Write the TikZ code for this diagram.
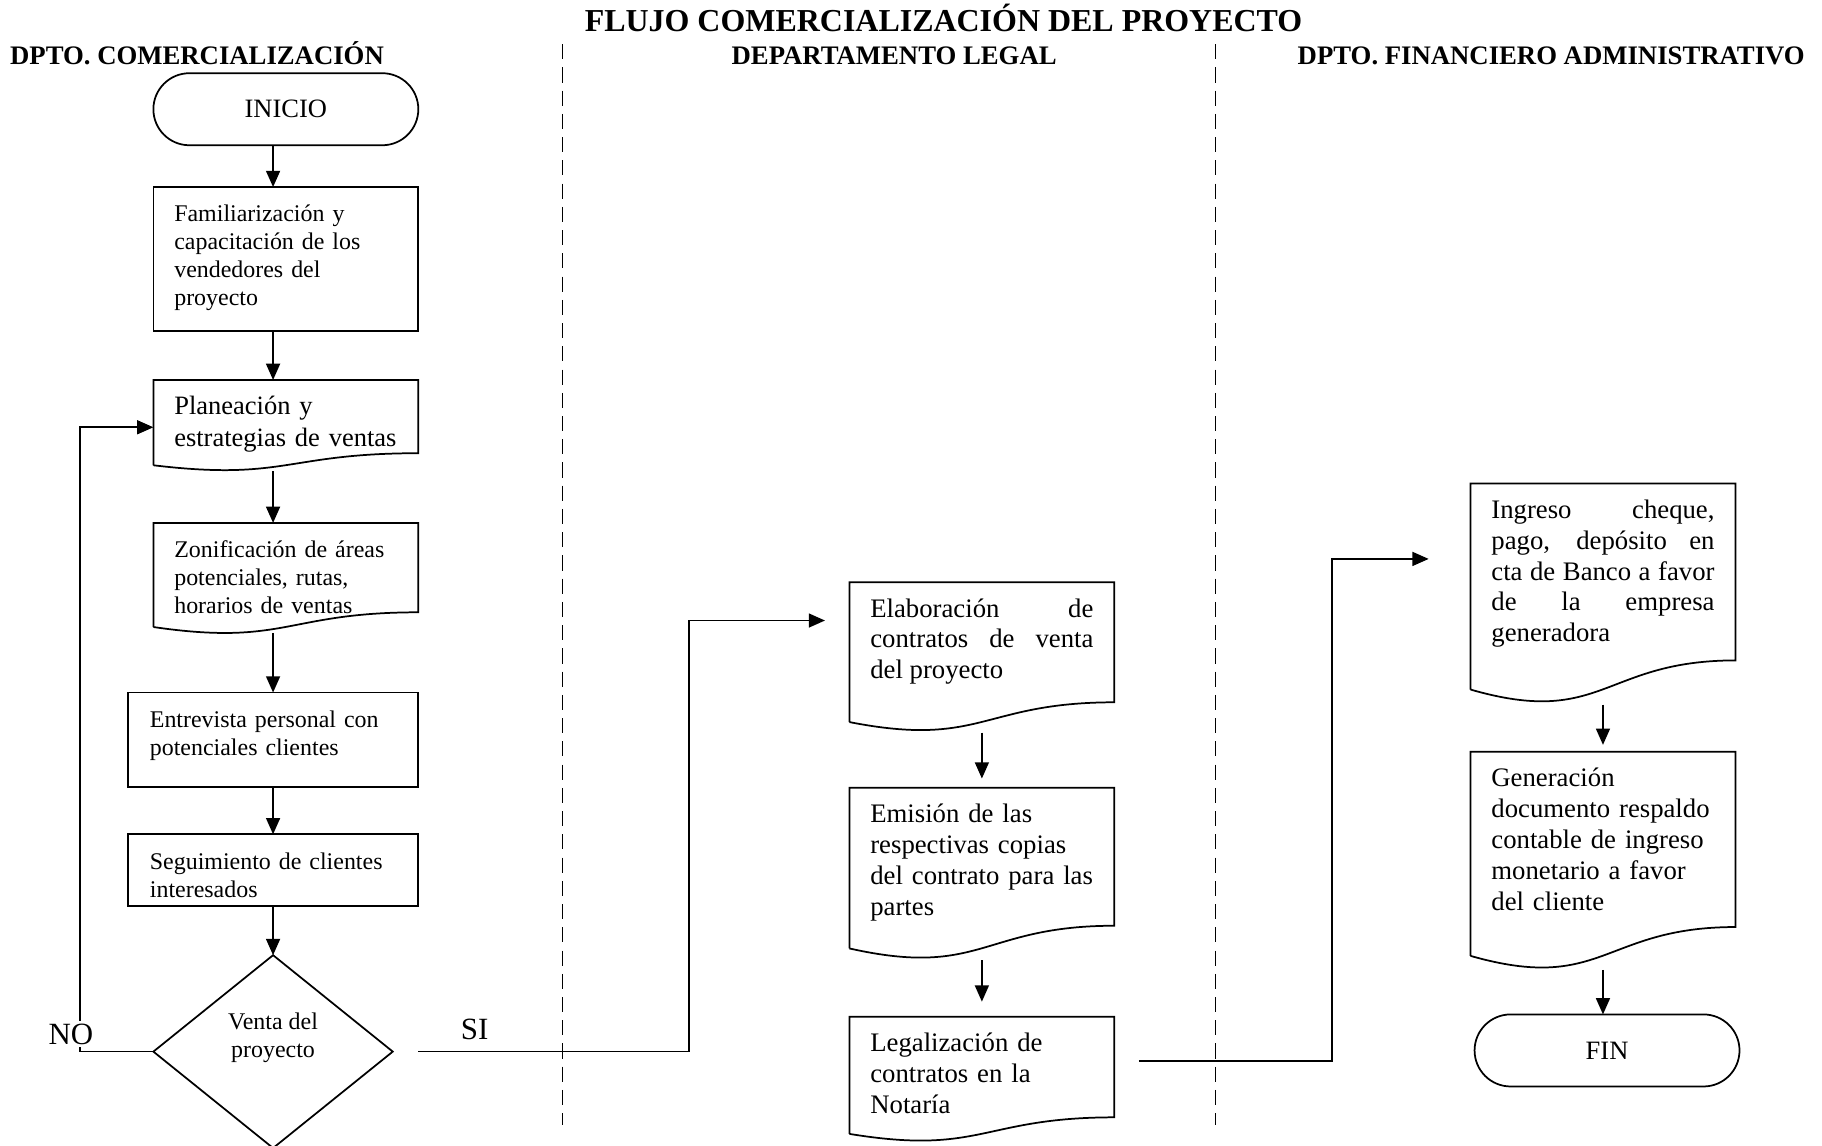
\documentclass[tikz,border=0pt]{standalone}
\usepackage{fontspec}
\setmainfont{Liberation Serif}
\usepackage{tikz}
\usetikzlibrary{arrows.meta,positioning,shapes.geometric,calc}

\newcommand{\flowtitle}{\fontsize{13.75}{16}\selectfont\bfseries}
\newcommand{\lanehead}{\fontsize{11.5}{14}\selectfont\bfseries}
\newcommand{\boxtext}{\fontsize{10.3}{12}\selectfont}
\newcommand{\bigboxtext}{\fontsize{11.4}{13.5}\selectfont}
\newcommand{\doctext}{\fontsize{11.5}{13.3}\selectfont}
\newcommand{\marktext}{\fontsize{13.3}{16}\selectfont}

\begin{document}
\begin{tikzpicture}[
  x=1pt, y=1pt,
  line width=0.75pt,
  >={Triangle[length=7pt,width=6pt]},
  terminal/.style={
    draw,
    rounded corners=15.5pt,
    minimum width=114pt,
    minimum height=31pt,
    inner sep=0pt,
    outer sep=0pt,
    font=\bigboxtext
  },
  procbox/.style={
    draw,
    align=left,
    text width=96pt,
    inner xsep=9pt,
    inner ysep=6pt,
    outer sep=0pt,
    text height=9pt,
    font=\boxtext
  },
  docbox/.style={
    align=left,
    text width=96pt,
    inner xsep=9pt,
    inner ysep=6pt,
    outer sep=0pt,
    text height=9pt,
    font=\doctext
  },
  decision/.style={
    draw,
    diamond,
    minimum width=103pt,
    minimum height=83pt,
    inner sep=0pt,
    outer sep=0pt,
    align=center,
    font=\boxtext
  },
  flow/.style={->},
  lane/.style={dash pattern=on 6.5pt off 3.5pt, line width=0.7pt},
  branch/.style={font=\marktext, inner sep=1pt}
]
  \useasboundingbox (0,0) rectangle (784,-493);

  % Title and lane headers
  \node[font=\flowtitle, anchor=base] (titulo) at (406,-13.5) {FLUJO COMERCIALIZACIÓN DEL PROYECTO};
  \node[font=\lanehead, anchor=base west, inner sep=0pt] (hcom) at (4,-27.75) {DPTO. COMERCIALIZACIÓN};
  \node[font=\lanehead, anchor=base] (hleg) at (384.75,-27.75) {DEPARTAMENTO LEGAL};
  \node[font=\lanehead, anchor=base] (hfin) at (667.5,-27.75) {DPTO. FINANCIERO ADMINISTRATIVO};

  % Lane separators
  \draw[lane] (242,-19) -- (242,-484);
  \draw[lane] (523,-19) -- (523,-484);

  % --- COMERCIALIZACION LANE ---
  % text depth keeps the text at the top of each box
  \node[terminal] (inicio) at (123,-47) {INICIO};
  \node[procbox, text depth=41pt, below=18pt of inicio] (fam) {Familiarización y\\capacitación de los\\vendedores del\\proyecto};
  \node[docbox, font=\bigboxtext, text depth=15.7pt, below=21pt of fam] (plan) {Planeación y\\estrategias de ventas};
  \node[docbox, font=\boxtext, text depth=23.8pt, below=24.8pt of plan] (zona) {Zonificación de áreas\\potenciales, rutas,\\horarios de ventas};
  \node[procbox, text width=106pt, inner xsep=9.5pt, text depth=19.5pt, below=28.2pt of zona.south east, anchor=north east] (entr) {Entrevista personal con\\potenciales clientes};
  \node[procbox, text width=106pt, inner xsep=9.5pt, text depth=10pt, below=20.5pt of entr] (segu) {Seguimiento de clientes\\interesados};
  \node[decision, text height=19pt, text depth=14pt, below=21pt of segu] (venta) {Venta del\\proyecto};

  % --- LEGAL LANE ---
  \node[docbox, align=justify, text depth=39.2pt, anchor=north] (elab) at (422.5,-250.5) {Elaboración de\linebreak contratos de venta\linebreak del proyecto};
  \node[docbox, text depth=48.1pt, below=28.3pt of elab] (emis) {Emisión de las\\respectivas copias\\del contrato para las\\partes};
  \node[docbox, text depth=29.4pt, below=29.4pt of emis] (legal) {Legalización de\\contratos en la\\Notaría};

  % --- FINANCIERO LANE ---
  \node[docbox, align=justify, text depth=67.7pt, anchor=north] (ingr) at (689.75,-208) {Ingreso cheque,\linebreak pago, depósito en\linebreak cta de Banco a favor\linebreak de la empresa\linebreak generadora};
  \node[docbox, text depth=66.8pt, below=26.8pt of ingr] (gene) {Generación\\documento respaldo\\contable de ingreso\\monetario a favor\\del cliente};
  \node[terminal, below=25.2pt of gene, xshift=1.75pt] (fin) {FIN};

  % Document outlines (wavy bottom edge)
  \foreach \doc in {plan,zona,elab,emis,legal,ingr,gene}
    \draw let \p1=(\doc.north), \p2=(\doc.south), \n1={\y1-\y2} in
      (\doc.south west) -- (\doc.north west) -- (\doc.north east)
      -- ([yshift=0.1413*\n1]\doc.south east)
      .. controls ([yshift=0.1413*\n1]\doc.south) and ([yshift=-0.1858*\n1]\doc.south) .. (\doc.south west);

  % Connecting arrows
  \draw[flow] (inicio.south -| venta.north) -- (fam.north -| venta.north);
  \draw[flow] (fam.south -| venta.north) -- (plan.north -| venta.north);
  \draw[flow, shorten <=2.5pt] (plan.south -| venta.north) -- (zona.north -| venta.north);
  \draw[flow, shorten <=2.5pt] (zona.south -| venta.north) -- (entr.north -| venta.north);
  \draw[flow] (entr.south -| venta.north) -- (segu.north -| venta.north);
  \draw[flow] (segu.south -| venta.north) -- (venta.north);

  \draw[flow, shorten <=4.5pt, shorten >=4pt] (elab.south) -- (emis.north);
  \draw[flow, shorten <=5pt, shorten >=6.5pt] (emis.south) -- (legal.north);
  \draw[flow, shorten <=6.5pt, shorten >=3pt] (ingr.south) -- (gene.north);
  \draw[flow, shorten <=6pt] (gene.south) -- (gene.south |- fin.north);

  % Decision branches
  \draw[flow] (venta.west) -- ++(-31.5,0) |- ([yshift=-2pt]plan.west);
  \draw[flow] ([xshift=11pt]venta.east) -- ++(116.5,0) |- ([xshift=-10.5pt,yshift=-16.5pt]elab.north west);
  \draw[flow] ([xshift=10.5pt,yshift=-19pt]legal.north east) -- ++(83,0) |- ([xshift=-18pt,yshift=-32.5pt]ingr.north west);

  \node[branch, fill=white] (no) at (30.5,-445) {NO};
  \node[branch] (si) at (204.25,-443) {SI};

\end{tikzpicture}
\end{document}
